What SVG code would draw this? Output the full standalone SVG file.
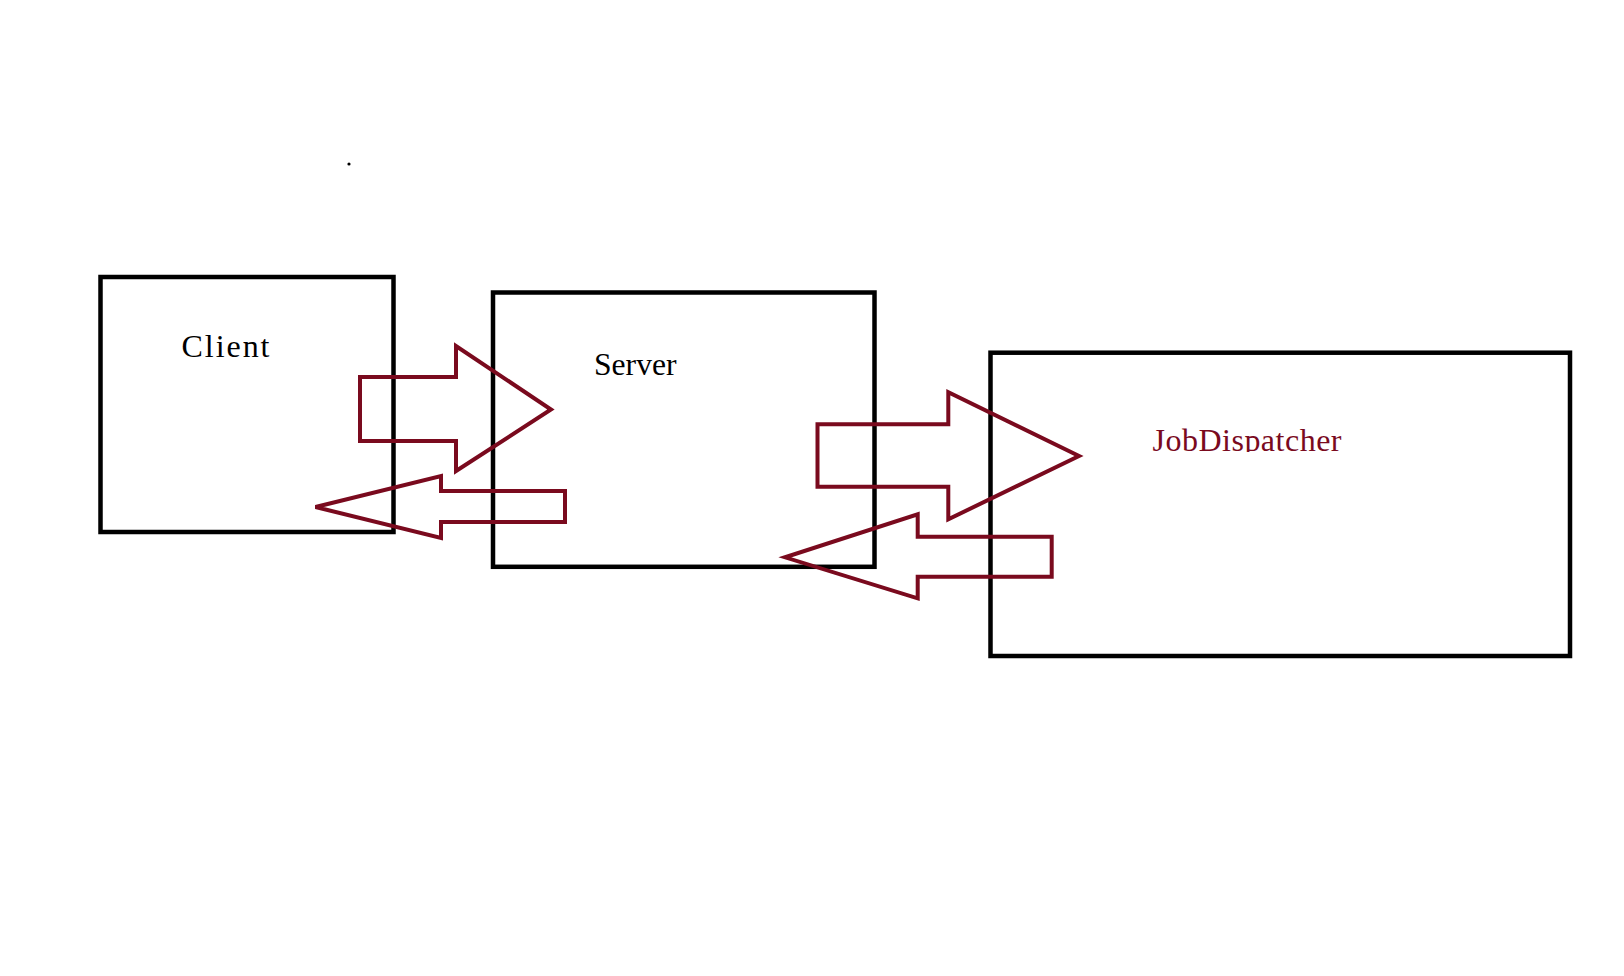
<svg xmlns="http://www.w3.org/2000/svg" width="1624" height="976" viewBox="0 0 1624 976">
  <style>
    .box { fill: none; stroke: #000000; stroke-width: 4.5; }
    .arrow { fill: none; stroke: #7a0a1e; stroke-width: 4; stroke-linejoin: miter; }
    .mono { font-family: "Liberation Serif", "DejaVu Serif", serif; font-size: 32px; }
    .serif { font-family: "Liberation Serif", "DejaVu Serif", serif; font-size: 32px; }
  </style>
  <defs>
    <clipPath id="jdClip">
      <rect x="1140" y="410" width="240" height="42"/>
    </clipPath>
  </defs>
  <rect x="0" y="0" width="1624" height="976" fill="#ffffff"/>
  <circle cx="349" cy="164" r="1.6" fill="#000000"/>

  <g id="client">
    <rect class="box" x="100.5" y="277" width="293" height="255"/>
    <text class="mono" x="181.5" y="356.5" fill="#000000" textLength="88" lengthAdjust="spacing">Client</text>
  </g>

  <g id="server">
    <rect class="box" x="493" y="292.5" width="381.5" height="274.3"/>
    <text class="serif" x="594" y="375" fill="#000000" textLength="82.5" lengthAdjust="spacingAndGlyphs">Server</text>
  </g>

  <g id="jobdispatcher">
    <rect class="box" x="990.5" y="352.7" width="579.5" height="303.3"/>
    <text class="mono" x="1152.5" y="451" fill="#7a0a1e" textLength="189" lengthAdjust="spacing" clip-path="url(#jdClip)">JobDispatcher</text>
  </g>

  <g id="connectors">
    <polygon class="arrow" points="360,377 456,377 456,346 551,409.5 456,471 456,441 360,441"/>
    <polygon class="arrow" points="565,491 441,491 441,476 315.5,507 441,538 441,522 565,522"/>
    <polygon class="arrow" points="817.5,424.3 948.3,424.3 948.3,392.3 1079,456 948.3,519.3 948.3,486.7 817.5,486.7"/>
    <polygon class="arrow" points="1051.7,536.7 917.7,536.7 917.7,514.3 785,557.3 917.7,598.3 917.7,576.7 1051.7,576.7"/>
  </g>
</svg>
